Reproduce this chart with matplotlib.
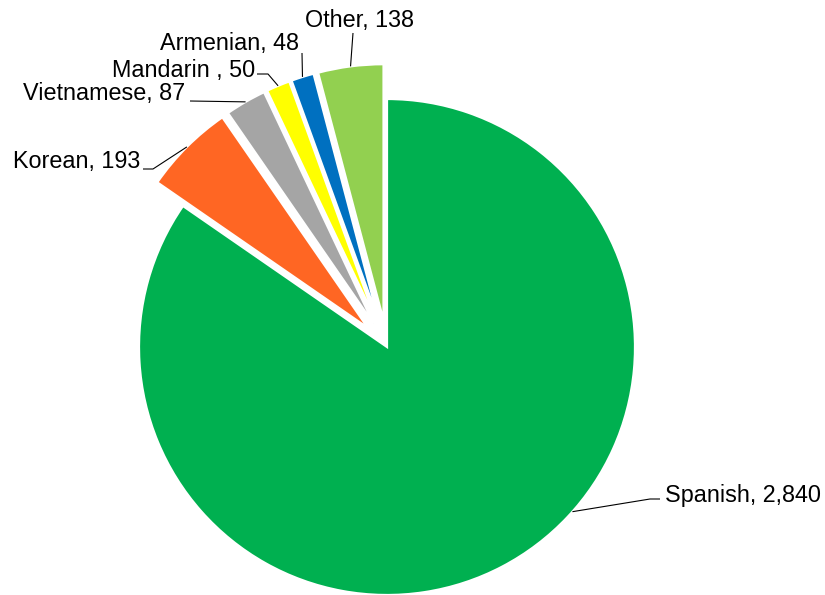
import numpy as np
import matplotlib
matplotlib.use("Agg")
import matplotlib.pyplot as plt

# Languages spoken and counts
languages = ["Spanish", "Korean", "Vietnamese", "Mandarin ", "Armenian", "Other"]
counts = [2840, 193, 87, 50, 48, 138]
colors = ["#00B050", "#FF6623", "#A5A5A5", "#FFFF00", "#0070C0", "#92D050"]

W, H = 825, 595
CX, CY = 387, 347          # pie centre in canvas pixels (from top-left)
RADIUS = 248
RADIUS_OUT = 256           # radius of the pulled-out slices
EXPLODE = [0, 27, 27, 27, 27, 27]

# label layout: text left/baseline, elbow points of the leader, attach fraction along wedge arc
label_pos = [(665, 502), (13, 168), (23, 100), (112, 77), (160, 50), (305, 27)]
elbows = [[(660, 499), (650, 499)],
          [(143, 169), (153, 169)],
          [(190, 101)],
          [(257, 74), (268, 74)],
          [(302, 53)],
          [(353, 33)]]
attach = [0.432, 0.5, 0.5, 0.5, 0.5, 0.5]


def to_data(x, y):
    return x - CX, CY - y


plt.rcParams["font.family"] = ["Liberation Sans", "DejaVu Sans"]
fig = plt.figure(figsize=(W / 100, H / 100), dpi=100)
ax = fig.add_axes([0, 0, 1, 1])

wedges, _ = ax.pie(counts, explode=EXPLODE, colors=colors, startangle=90,
                   counterclock=False, radius=RADIUS, center=(0, 0),
                   wedgeprops=dict(edgecolor="white", linewidth=1.6))
for w, e in zip(wedges, EXPLODE):
    if e:
        w.set_radius(RADIUS_OUT)

ax.set_xlim(-CX, W - CX)
ax.set_ylim(CY - H, CY)
ax.set_aspect("equal")
ax.axis("off")

for w, name, val, pos, elb, frac in zip(wedges, languages, counts, label_pos, elbows, attach):
    # slices run clockwise, so measure the attach point from theta2 downwards
    ang = np.deg2rad(w.theta2 - (w.theta2 - w.theta1) * frac)
    cx, cy = w.center
    ax_pt = (cx + w.r * np.cos(ang), cy + w.r * np.sin(ang))
    pts = [to_data(*p) for p in elb] + [ax_pt]
    xs, ys = zip(*pts)
    ax.plot(xs, ys, color="black", lw=0.8, solid_capstyle="butt")
    tx, ty = to_data(*pos)
    ax.text(tx, ty, f"{name}, {val:,}", fontsize=16.8, ha="left", va="baseline",
            color="black")

fig.savefig("out.png", dpi=100)
